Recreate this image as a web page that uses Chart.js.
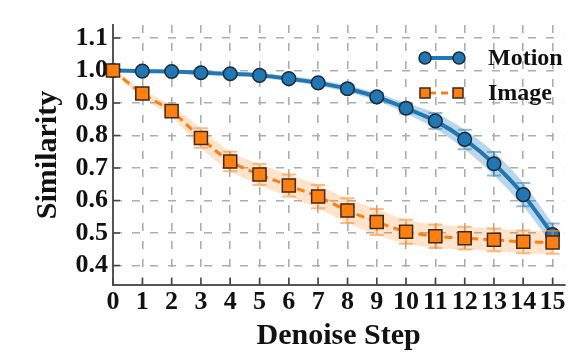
<!DOCTYPE html>
<html>
<head>
<meta charset="utf-8">
<script src="https://cdn.jsdelivr.net/npm/chart.js@4.4.1/dist/chart.umd.min.js"></script>
<style>
  html, body { margin: 0; padding: 0; background: #fff; }
</style>
</head>
<body>
<canvas id="myChart" width="575" height="356"></canvas>
<script>
// data
const steps = [0, 1, 2, 3, 4, 5, 6, 7, 8, 9, 10, 11, 12, 13, 14, 15];
const motion = [1.0, 0.998, 0.997, 0.993, 0.99, 0.985, 0.975, 0.962, 0.944, 0.919, 0.884, 0.845, 0.788, 0.713, 0.618, 0.495];
const motionErr = [0.003, 0.003, 0.004, 0.005, 0.006, 0.007, 0.008, 0.009, 0.011, 0.012, 0.016, 0.024, 0.03, 0.036, 0.036, 0.034];
const image = [1.0, 0.929, 0.875, 0.792, 0.72, 0.68, 0.646, 0.612, 0.569, 0.534, 0.504, 0.49, 0.484, 0.479, 0.473, 0.471];
const imageErr = [0.005, 0.012, 0.018, 0.03, 0.03, 0.032, 0.034, 0.036, 0.038, 0.04, 0.037, 0.036, 0.035, 0.035, 0.035, 0.035];
const yTicks = [0.4, 0.5, 0.6, 0.7, 0.8, 0.9, 1.0, 1.1];
const seriesNames = ["Motion", "Image"];

const FONT = "'Liberation Serif', 'Times New Roman', serif";
const BLUE = "#1f77b4";
const ORANGE = "#ff7f0e";

function pts(vals, off, sign) {
  return steps.map((s, i) => ({ x: s, y: off ? vals[i] + sign * off[i] : vals[i] }));
}

// error bars + inward ticks + legend
const extras = {
  id: "extras",
  beforeDatasetDraw(chart, args) {
    const ds = chart.data.datasets[args.index];
    if (!ds.errs) return;
    const ctx = chart.ctx, xs = chart.scales.x, ys = chart.scales.y;
    ctx.save();
    ctx.strokeStyle = ds.errColor;
    ctx.lineWidth = 2;
    steps.forEach((s, i) => {
      const x = xs.getPixelForValue(s);
      const y1 = ys.getPixelForValue(ds.vals[i] + ds.errs[i]);
      const y2 = ys.getPixelForValue(ds.vals[i] - ds.errs[i]);
      ctx.beginPath();
      ctx.moveTo(x, y1); ctx.lineTo(x, y2);
      ctx.moveTo(x - 7, y1); ctx.lineTo(x + 7, y1);
      ctx.moveTo(x - 7, y2); ctx.lineTo(x + 7, y2);
      ctx.stroke();
    });
    ctx.restore();
  },
  beforeDatasetsDraw(chart) {
    const ctx = chart.ctx, xs = chart.scales.x, ys = chart.scales.y;
    const a = chart.chartArea;
    ctx.save();
    ctx.strokeStyle = "#444";
    ctx.lineWidth = 1.5;
    ctx.beginPath();
    steps.forEach(s => {
      const x = xs.getPixelForValue(s);
      ctx.moveTo(x, a.bottom); ctx.lineTo(x, a.bottom - 7);
    });
    yTicks.forEach(v => {
      const y = ys.getPixelForValue(v);
      ctx.moveTo(a.left, y); ctx.lineTo(a.left + 7, y);
    });
    ctx.stroke();
    ctx.restore();
  },
  afterDraw(chart) {
    const ctx = chart.ctx;
    ctx.save();
    // Motion
    ctx.strokeStyle = BLUE; ctx.lineWidth = 4;
    ctx.beginPath(); ctx.moveTo(425, 58); ctx.lineTo(459, 58); ctx.stroke();
    ctx.fillStyle = BLUE; ctx.strokeStyle = "#1b2a3a"; ctx.lineWidth = 1.5;
    [425, 459].forEach(x => {
      ctx.beginPath(); ctx.arc(x, 58, 6, 0, Math.PI * 2); ctx.fill(); ctx.stroke();
    });
    // Image
    ctx.strokeStyle = ORANGE; ctx.lineWidth = 3; ctx.setLineDash([7, 5]); ctx.lineDashOffset = -4;
    ctx.beginPath(); ctx.moveTo(425, 93); ctx.lineTo(458, 93); ctx.stroke();
    ctx.setLineDash([]);
    ctx.fillStyle = ORANGE; ctx.strokeStyle = "#3a2a1a"; ctx.lineWidth = 1.5;
    [425, 458].forEach(x => {
      ctx.fillRect(x - 5, 88, 10, 10); ctx.strokeRect(x - 5, 88, 10, 10);
    });
    ctx.fillStyle = "#111";
    ctx.font = "bold 24px " + FONT;
    ctx.textBaseline = "middle";
    ctx.fillText(seriesNames[0], 488, 59);
    ctx.fillText(seriesNames[1], 488, 94);
    ctx.restore();
  }
};

const bandCommon = { pointRadius: 0, borderWidth: 0, tension: 0.3, clip: false };

new Chart(document.getElementById("myChart"), {
  type: "line",
  data: {
    datasets: [
      { ...bandCommon, data: pts(motion, motionErr, 1), fill: false, order: 3 },
      { ...bandCommon, data: pts(motion, motionErr, -1), fill: "-1", backgroundColor: "rgba(31,119,180,0.3)", order: 3 },
      { ...bandCommon, data: pts(image, imageErr, 1), fill: false, order: 2 },
      { ...bandCommon, data: pts(image, imageErr, -1), fill: "-1", backgroundColor: "rgba(255,127,14,0.22)", order: 2 },
      {
        label: seriesNames[0], data: pts(motion), vals: motion, errs: motionErr, errColor: "rgba(31,119,180,0.5)",
        borderColor: BLUE, borderWidth: 4, tension: 0.3, fill: false, clip: false,
        pointStyle: "circle", pointRadius: 6.8, pointBackgroundColor: BLUE,
        pointBorderColor: "#1b2a3a", pointBorderWidth: 1.5, order: 1
      },
      {
        label: seriesNames[1], data: pts(image), vals: image, errs: imageErr, errColor: "rgba(255,140,40,0.6)",
        borderColor: ORANGE, borderWidth: 3, borderDash: [8, 5], tension: 0.3, fill: false, clip: false,
        pointStyle: "rect", pointRadius: 9.2, pointBackgroundColor: ORANGE,
        pointBorderColor: "#3a2a1a", pointBorderWidth: 1.5, order: 0
      }
    ]
  },
  options: {
    responsive: false,
    animation: false,
    layout: { padding: { top: 25, right: 6, left: 0, bottom: 0 } },
    plugins: { legend: { display: false }, tooltip: { enabled: false } },
    scales: {
      x: {
        type: "linear", min: 0, max: 15.4,
        afterBuildTicks: s => { s.ticks = steps.map(v => ({ value: v })); },
        afterFit: s => { s.height = 71; },
        ticks: { color: "#111", font: { family: FONT, size: 26, weight: "bold" }, padding: 2, maxRotation: 0, autoSkip: false },
        grid: { color: "#adadad", lineWidth: 1.6, drawTicks: false },
        border: { color: "#555", width: 2, dash: [8, 10] },
        title: { display: true, text: "Denoise Step", color: "#111", font: { family: FONT, size: 30, weight: "bold", lineHeight: 1 }, padding: { top: 0, bottom: 5 } }
      },
      y: {
        type: "linear", min: 0.34, max: 1.14,
        afterBuildTicks: s => { s.ticks = yTicks.map(v => ({ value: v })); },
        afterFit: s => { s.width = 113; },
        ticks: { color: "#111", font: { family: FONT, size: 26, weight: "bold" }, padding: 5, callback: v => v.toFixed(1) },
        grid: { color: "#adadad", lineWidth: 1.6, drawTicks: false },
        border: { color: "#555", width: 2, dash: [8, 10] },
        title: { display: true, text: "Similarity", color: "#111", font: { family: FONT, size: 30, weight: "bold", lineHeight: 1 }, padding: { top: 33, bottom: 0 } }
      }
    }
  },
  plugins: [extras]
});
</script>
</body>
</html>
